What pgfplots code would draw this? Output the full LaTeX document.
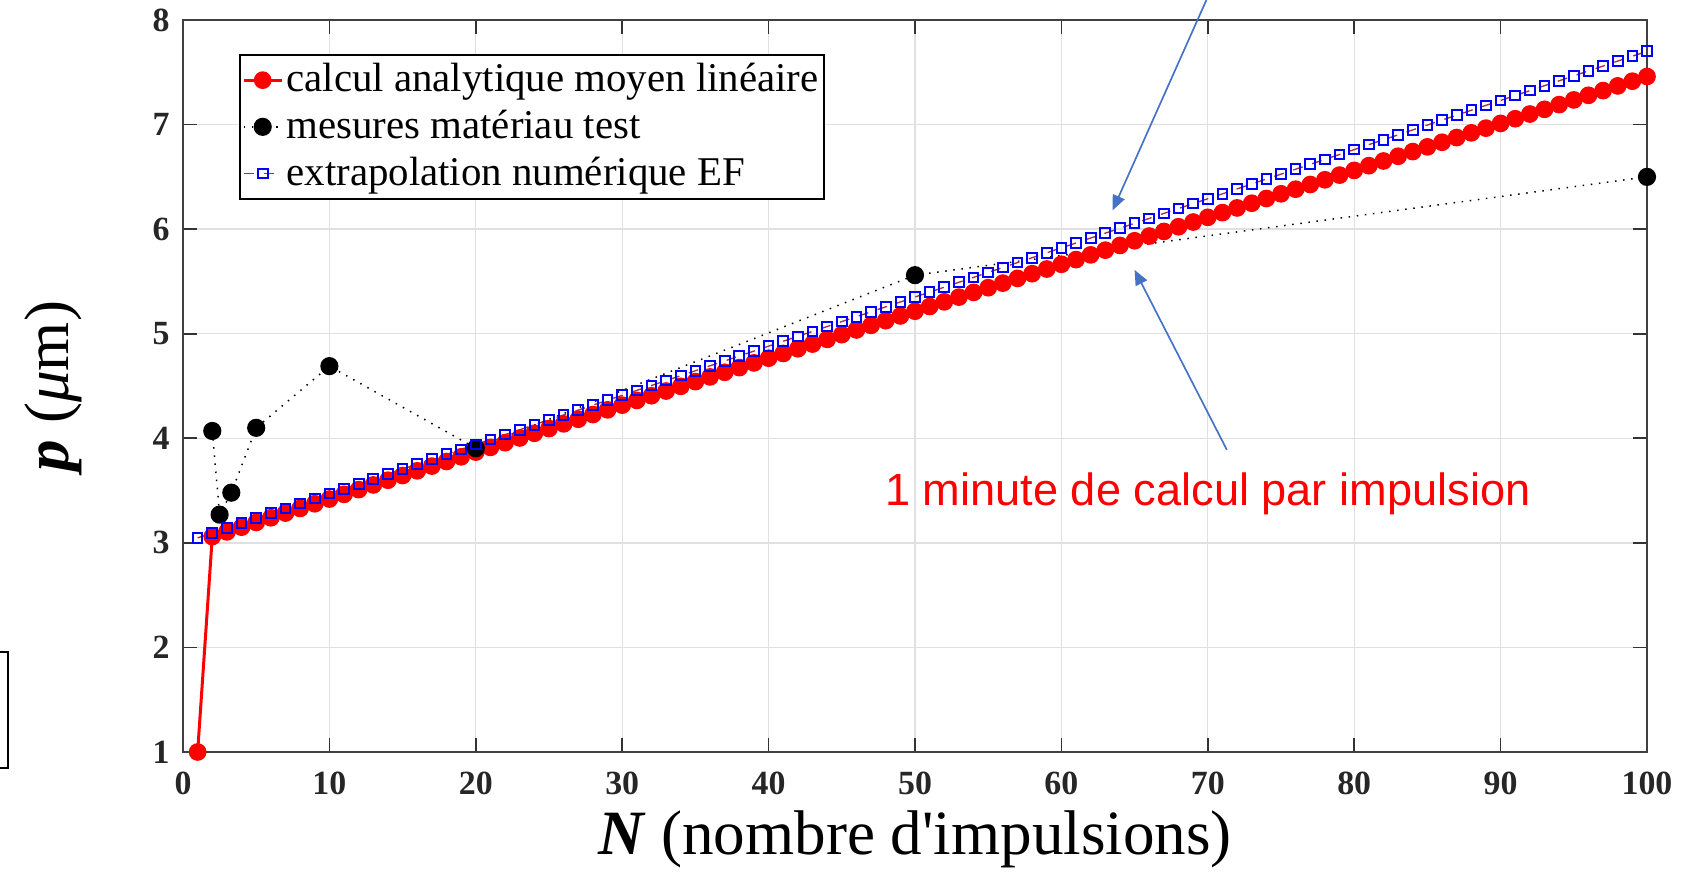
\documentclass[border=0pt]{standalone}
\usepackage{pgfplots}
\pgfplotsset{compat=1.18}
\usepackage{fontspec}
\setmainfont{Liberation Serif}
\newfontfamily\arialfont{Liberation Sans}
\usetikzlibrary{arrows.meta}
\definecolor{arrowblue}{RGB}{68,114,196}
\definecolor{efline}{RGB}{160,50,70}
\begin{document}
\begin{tikzpicture}
\begin{axis}[
  at={(54.9bp,37.5bp)}, anchor=south west,
  scale only axis, width=439.2bp, height=219.6bp,
  xmin=0, xmax=100, ymin=1, ymax=8,
  xtick={0,10,...,100}, ytick={1,2,...,8},
  grid=major, grid style={draw=black!12, line width=0.4bp},
  axis line style={draw=black!75, line width=0.5bp},
  tick align=inside, major tick length=4.2bp,
  tick style={draw=black!80, line width=0.5bp},
  ticklabel style={font=\fontsize{10.2}{12}\selectfont\bfseries, text=black!85},
  /pgf/number format/assume math mode=true,
  xticklabel style={yshift=-2.4bp},
  yticklabel style={xshift=-0.5bp},
  xlabel={\textbf{\textit{N}} (nombre d\textquotesingle impulsions)},
  xlabel style={font=\fontsize{19}{22}\selectfont, at={(axis description cs:0.5,-0.1407)}, anchor=base},
  ylabel={\textbf{\textit{p}} (\textit{μ}m)},
  ylabel style={font=\fontsize{19}{22}\selectfont, at={(axis description cs:-0.0885,0.5)}, anchor=center},
  clip=false,
  legend cell align=left,
  legend image code/.code={\draw[mark repeat=2,mark phase=2,#1] plot coordinates {(0bp,0bp) (5.7bp,0bp) (11.4bp,0bp)};},
  legend style={at={(axis cs:3.85,7.675)}, anchor=north west, draw=black, line width=0.5bp, fill=white,
    inner sep=0.6bp, font=\fontsize{12.3}{14}\selectfont,
    nodes={inner sep=1bp, text height=9.5bp, text depth=2.5bp}, row sep=0pt},
]
% analytical mean linear
\addplot[color=red, line width=0.9bp, mark=*, mark size=2.2bp, mark options={fill=red, draw=red}] coordinates {
(1,1.000) (2,3.060) (3,3.105) (4,3.150) (5,3.195) (6,3.240) (7,3.285) (8,3.329) (9,3.374) (10,3.419)
(11,3.464) (12,3.509) (13,3.554) (14,3.599) (15,3.644) (16,3.689) (17,3.734) (18,3.778) (19,3.823) (20,3.868)
(21,3.913) (22,3.958) (23,4.003) (24,4.048) (25,4.093) (26,4.138) (27,4.182) (28,4.227) (29,4.272) (30,4.317)
(31,4.362) (32,4.407) (33,4.452) (34,4.497) (35,4.542) (36,4.587) (37,4.631) (38,4.676) (39,4.721) (40,4.766)
(41,4.811) (42,4.856) (43,4.901) (44,4.946) (45,4.991) (46,5.036) (47,5.080) (48,5.125) (49,5.170) (50,5.215)
(51,5.260) (52,5.305) (53,5.350) (54,5.395) (55,5.440) (56,5.484) (57,5.529) (58,5.574) (59,5.619) (60,5.664)
(61,5.709) (62,5.754) (63,5.799) (64,5.844) (65,5.889) (66,5.934) (67,5.978) (68,6.023) (69,6.068) (70,6.113)
(71,6.158) (72,6.203) (73,6.248) (74,6.293) (75,6.338) (76,6.382) (77,6.427) (78,6.472) (79,6.517) (80,6.562)
(81,6.607) (82,6.652) (83,6.697) (84,6.742) (85,6.787) (86,6.831) (87,6.876) (88,6.921) (89,6.966) (90,7.011)
(91,7.056) (92,7.101) (93,7.146) (94,7.191) (95,7.236) (96,7.280) (97,7.325) (98,7.370) (99,7.415) (100,7.460)
};
\addlegendentry{calcul analytique moyen linéaire}
% measurements
\addplot[color=black, line width=0.45bp, dotted, mark=*, mark size=2.5bp, mark options={solid, fill=black}] coordinates {
(2,4.07) (2.5,3.27) (3.3,3.48) (5,4.10) (10,4.69) (20,3.905) (50,5.56) (100,6.50)
};
\addlegendentry{mesures matériau test}
% FE extrapolation
\addplot[color=efline, line width=0.4bp, dashed, mark=square, mark size=1.45bp, mark options={solid, draw=blue, fill=white, line width=0.6bp}] coordinates {
(1,3.048) (2,3.095) (3,3.142) (4,3.189) (5,3.236) (6,3.283) (7,3.330) (8,3.377) (9,3.424) (10,3.471)
(11,3.518) (12,3.565) (13,3.612) (14,3.659) (15,3.706) (16,3.753) (17,3.800) (18,3.847) (19,3.894) (20,3.941)
(21,3.988) (22,4.035) (23,4.082) (24,4.129) (25,4.176) (26,4.223) (27,4.270) (28,4.317) (29,4.364) (30,4.411)
(31,4.458) (32,4.505) (33,4.552) (34,4.599) (35,4.646) (36,4.693) (37,4.740) (38,4.787) (39,4.834) (40,4.881)
(41,4.928) (42,4.975) (43,5.022) (44,5.069) (45,5.116) (46,5.163) (47,5.210) (48,5.257) (49,5.304) (50,5.351)
(51,5.398) (52,5.445) (53,5.492) (54,5.539) (55,5.586) (56,5.633) (57,5.680) (58,5.727) (59,5.774) (60,5.821)
(61,5.868) (62,5.915) (63,5.962) (64,6.009) (65,6.056) (66,6.103) (67,6.150) (68,6.197) (69,6.244) (70,6.291)
(71,6.338) (72,6.385) (73,6.432) (74,6.479) (75,6.526) (76,6.573) (77,6.620) (78,6.667) (79,6.714) (80,6.761)
(81,6.808) (82,6.855) (83,6.902) (84,6.949) (85,6.996) (86,7.043) (87,7.090) (88,7.137) (89,7.184) (90,7.231)
(91,7.278) (92,7.325) (93,7.372) (94,7.419) (95,7.466) (96,7.513) (97,7.560) (98,7.607) (99,7.654) (100,7.701)
};
\addlegendentry{extrapolation numérique EF}
% annotations
\draw[-{Triangle[length=4.5bp,width=3.8bp]}, color=arrowblue, line width=0.5bp] (axis cs:69.9,8.19) -- (axis cs:63.5,6.18);
\draw[-{Triangle[length=4.5bp,width=3.8bp]}, color=arrowblue, line width=0.5bp] (axis cs:71.3,3.89) -- (axis cs:65.0,5.61);
\node[font=\arialfont\fontsize{13.6}{15}\selectfont, text=red, anchor=base, inner sep=0pt] at (axis cs:70.0,3.358) {1 minute de calcul par impulsion};
\end{axis}
\draw[line width=0.6bp] (-3bp,32.7bp) rectangle (2.4bp,67.5bp);
\pgfresetboundingbox
\path (0bp,0bp) rectangle (508.2bp,263.1bp);
\end{tikzpicture}
\end{document}
